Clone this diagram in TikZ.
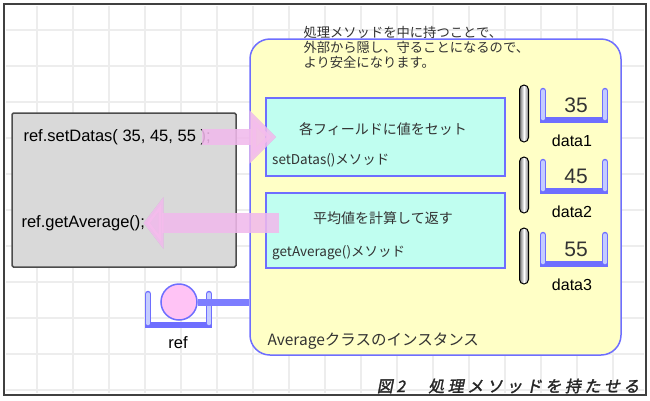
\documentclass[tikz,border=0pt]{standalone}
\usepackage{fontspec}
\setmainfont{Liberation Sans}
\newfontfamily\jp{Noto Sans CJK JP}
\newfontfamily\jpcap[FakeSlant=0.2,FakeBold=1.8,LetterSpace=22]{Noto Sans CJK JP}
\usetikzlibrary{arrows.meta}
\definecolor{instfill}{HTML}{FFFFC6}
\definecolor{boxline}{HTML}{6E6EFF}
\definecolor{methfill}{HTML}{C0FEF0}
\definecolor{callpink}{HTML}{F6BDEE}
\definecolor{cuplight}{HTML}{C4CCFF}
\definecolor{refpink}{HTML}{FFC3F5}
\definecolor{txtgray}{HTML}{333333}

\begin{document}
\begin{tikzpicture}[x=1pt,y=-1pt]
    \tikzstyle{frame}=[draw=black!75, line width=2pt, fill=white]
    \tikzstyle{gridline}=[draw=black!7, line width=1.5pt]
    \tikzstyle{codebox}=[draw=black!70, line width=1.5pt, fill=black!15, rounded corners=1.5pt]
    \tikzstyle{instbox}=[draw=boxline, line width=1.5pt, fill=instfill, rounded corners=20pt]
    \tikzstyle{methbox}=[draw=boxline, line width=1.5pt, fill=methfill]
    \tikzstyle{bar}=[draw=black, line width=1pt, rounded corners=4.5pt, minimum width=9pt,
        left color=black!55, right color=black!55, middle color=white]
    \tikzstyle{cupout}=[draw=boxline, line width=6.5pt, line cap=round]
    \tikzstyle{cupin}=[draw=cuplight, line width=3.5pt, line cap=round]
    \tikzstyle{callarrow}=[draw=callpink, line width=16pt, opacity=0.85]
    \tikzstyle{callshadow}=[draw=black!50!blue, line width=16pt, opacity=0.12]
    \tikzstyle{jptext}=[font=\jp\fontsize{13.5}{15}\selectfont, text=txtgray]
    \useasboundingbox (0,0) rectangle (650,400);
    \fill[white] (0,0) rectangle (650,400);
    \node[frame, minimum width=642pt, minimum height=391pt, inner sep=0pt] (frame) at (325,199.5) {};
    % grid
    \foreach \x in {37,73,...,613} \draw[gridline] (\x,6) -- (\x,393);
    \foreach \y in {30,66,...,390} \draw[gridline] (6,\y) -- (644,\y);
    % calling code
    \node[codebox, minimum width=224pt, minimum height=154pt] (code) at (124,190) {};
    \node[anchor=west, font=\fontsize{16.5}{18}\selectfont] (setcall) at (20,137) {ref.setDatas( 35, 45, 55 );};
    \node[anchor=west, font=\fontsize{16.5}{18}\selectfont] (getcall) at (18,223) {ref.getAverage();};
    % instance
    \node[instbox, minimum width=371pt, minimum height=316pt] (inst) at (435.5,197) {};
    \node[jptext, anchor=west, align=left, font=\jp\fontsize{13.3}{15}\selectfont] (note) at (300,47)
        {処理メソッドを中に持つことで、\\外部から隠し、守ることになるので、\\より安全になります。};
    \node[jptext, anchor=west, font=\jp\fontsize{15.5}{17}\selectfont] (instlbl) at (264,341) {Averageクラスのインスタンス};
    \node[methbox, minimum width=239pt, minimum height=78pt] (setm) at (385.5,137) {};
    \node[methbox, minimum width=239pt, minimum height=75pt] (getm) at (385.5,230.5) {};
    \node[jptext, font=\jp\fontsize{14}{16}\selectfont] (settitle) at (383,129) {各フィールドに値をセット};
    \node[jptext, font=\jp\fontsize{14}{16}\selectfont] (gettitle) at (383,218) {平均値を計算して返す};
    \node[jptext, anchor=west, inner sep=0pt] (setname) at (272,160) {setDatas()メソッド};
    \node[jptext, anchor=west, inner sep=0pt] (getname) at (272,253) {getAverage()メソッド};
    % fields
    \node[bar, minimum height=57pt] (bar1) at (524,113.5) {};
    \node[bar, minimum height=56pt] (bar2) at (524,185) {};
    \node[bar, minimum height=56pt] (bar3) at (524,256) {};
    \foreach \n/\y/\v in {1/91/35, 2/162/45, 3/235/55} {
        \draw[cupout] (543,\y) -- (543,\y+29) -- (605,\y+29) -- (605,\y);
        \draw[cupin] (543,\y) -- (543,\y+27.5) (605,\y+27.5) -- (605,\y);
        \node[text=txtgray, font=\fontsize{21}{22}\selectfont] (val\n) at (576,\y+14) {\v};
        \node[font=\fontsize{16}{18}\selectfont] (lbl\n) at (572,\y+50) {data\n};
    }
    % reference variable
    \draw[cupout] (148,294) -- (148,325) -- (209,325) -- (209,294);
    \draw[cupin] (148,294) -- (148,323.5) (209,323.5) -- (209,294);
    \node[draw=boxline, line width=1.5pt, fill=refpink, circle, minimum size=36pt, inner sep=0pt] (refobj) at (179,302) {};
    \draw[draw=boxline!90, line width=7pt] (refobj.east) -- (refobj -| inst.west);
    \node[font=\fontsize{16.5}{18}\selectfont] (reflbl) at (178,343) {ref};
    % calls
    \draw[callshadow, -{Triangle[length=27pt,width=52pt]}, shift={(3pt,-3pt)}] ([xshift=-12pt]setcall.east) -- ([xshift=11pt]setm.west);
    \draw[callarrow, -{Triangle[length=27pt,width=52pt]}] ([xshift=-12pt]setcall.east) -- ([xshift=11pt]setm.west);
    \draw[callshadow, line width=20pt, -{Triangle[length=20pt,width=51pt]}, shift={(3pt,-3pt)}] ([xshift=14pt]getm.west |- getcall) -- ([xshift=-5pt]getcall.east);
    \draw[callarrow, line width=20pt, -{Triangle[length=20pt,width=51pt]}] ([xshift=14pt]getm.west |- getcall) -- ([xshift=-5pt]getcall.east);
    % caption
    \node[anchor=east, text=black!85, font=\jpcap\fontsize{16}{17}\selectfont] (caption) at (643,386) {図2　処理メソッドを持たせる};
\end{tikzpicture}
\end{document}
